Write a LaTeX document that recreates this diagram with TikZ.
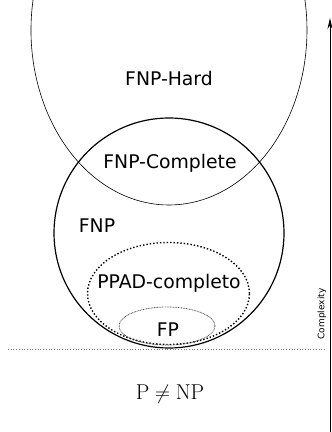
\documentclass[tikz,border=0pt]{standalone}
\usepackage{fontspec}
\setsansfont{DejaVu Sans}
\usetikzlibrary{arrows.meta}
\tikzset{
  classlabel/.style={font=\sffamily\fontsize{18.8}{21}\selectfont, inner sep=0pt},
}
\begin{document}
\begin{tikzpicture}[x=1pt,y=1pt]
	\useasboundingbox (0,0) rectangle (332,432);
	% FNP-Hard (open at the top)
	\draw[line width=0.6pt] (169,402) ++(170.1:138 and 175) arc[start angle=170.1, end angle=369.9, x radius=138, y radius=175];
	% FNP
	\draw[line width=1.2pt] (169,199) circle [radius=115];
	\draw[line width=1.4pt, dotted] (168.5,138.5) ellipse [x radius=81, y radius=51];
	\draw[gray!55!black, line width=0.8pt, dash pattern=on 0.8pt off 0.8pt] (167,106) ellipse [x radius=48, y radius=19];
	\draw[gray, line width=0.7pt, dotted] (8,83) -- (325,83);
	% complexity axis
	\coordinate (axbot) at (330,0);
	\coordinate (axtop) at (330,414);
	\draw[line width=0.8pt, -{Stealth[length=11pt,width=5pt]}] (axbot) -- (axtop);
	\node[font=\sffamily\fontsize{9}{10}\selectfont, rotate=90, inner sep=0pt] (cplx) at (322,118) {Complexity};
	\node[classlabel] (hard) at (169,354) {FNP-Hard};
	\node[classlabel] (compl) at (170,269) {FNP-Complete};
	\node[classlabel] (fnp) at (97,206) {FNP};
	\node[classlabel] (ppad) at (169,149) {PPAD-completo};
	\node[classlabel] (fp) at (168,102) {FP};
	\node[font=\fontsize{21.5}{24}\selectfont, inner sep=0pt] (pnp) at (170,38) {$\mathrm{P} \neq \mathrm{NP}$};
\end{tikzpicture}
\end{document}
